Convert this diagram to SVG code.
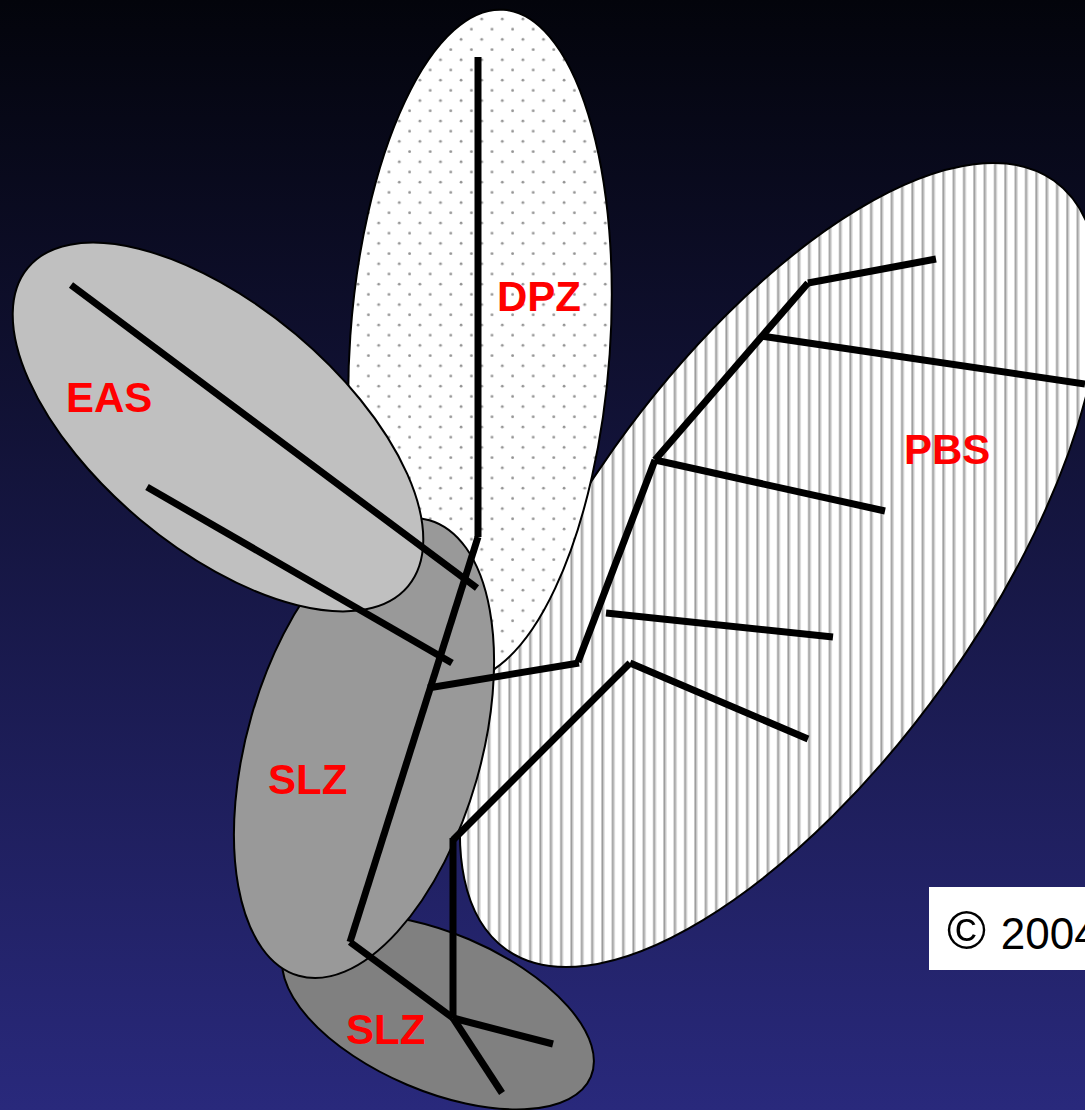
<svg xmlns="http://www.w3.org/2000/svg" width="1085" height="1110" viewBox="0 0 1085 1110">
  <defs>
    <linearGradient id="bg" x1="0" y1="0" x2="0" y2="1">
      <stop offset="0" stop-color="#03040b"/>
      <stop offset="1" stop-color="#29297c"/>
    </linearGradient>
    <pattern id="dots" patternUnits="userSpaceOnUse" patternTransform="rotate(-4 480 345)" x="476.7" y="14" width="20.6" height="20.4">
      <rect width="20.6" height="20.4" fill="#ffffff"/>
      <circle cx="5" cy="5" r="1.4" fill="#949494"/>
      <circle cx="15.3" cy="15.2" r="1.4" fill="#949494"/>
    </pattern>
    <pattern id="stripes" patternUnits="userSpaceOnUse" patternTransform="rotate(54.5 780 565)" x="704.4" y="0" width="10.33" height="20">
      <rect width="10.33" height="20" fill="#ffffff"/>
      <rect x="0" width="0.9" height="20" fill="#c4c4c4"/>
      <rect x="0.9" width="1.5" height="20" fill="#9c9c9c"/>
      <rect x="2.4" width="0.9" height="20" fill="#c4c4c4"/>
    </pattern>
  </defs>
  <style>
    .zone { stroke: #000000; stroke-width: 2; }
    .lbl { font-family: "Liberation Sans", Arial, sans-serif; font-weight: bold; font-size: 42px; fill: #ff0000; }
    .conn line { stroke: #000000; stroke-width: 7; stroke-linecap: butt; }
  </style>

  <rect x="0" y="0" width="1085" height="1110" fill="url(#bg)"/>

  <g id="PBS">
    <ellipse class="zone" cx="780" cy="565" rx="472" ry="203" transform="rotate(-54.5 780 565)" fill="url(#stripes)"/>
    <text class="lbl" x="904" y="464">PBS</text>
  </g>

  <g id="DPZ">
    <ellipse class="zone" cx="480" cy="345" rx="130" ry="336" transform="rotate(4 480 345)" fill="url(#dots)"/>
    <text class="lbl" x="497" y="311">DPZ</text>
  </g>

  <g id="SLZ-lower">
    <ellipse class="zone" cx="438" cy="1012" rx="166" ry="79" transform="rotate(23 438 1012)" fill="#808080"/>
    <text class="lbl" x="346" y="1044">SLZ</text>
  </g>

  <g id="SLZ-upper">
    <ellipse class="zone" cx="364" cy="748" rx="117" ry="237" transform="rotate(16 364 748)" fill="#999999"/>
    <text class="lbl" x="268" y="794">SLZ</text>
  </g>

  <g id="EAS">
    <ellipse class="zone" cx="218" cy="427" rx="248" ry="121" transform="rotate(40 218 427)" fill="#c0c0c0"/>
    <text class="lbl" x="66" y="412">EAS</text>
  </g>

  <g id="connectors" class="conn">
    <line x1="478" y1="57" x2="478" y2="537"/>
    <line x1="478" y1="537" x2="350" y2="942"/>
    <line x1="71" y1="285" x2="477" y2="588"/>
    <line x1="147" y1="487" x2="452" y2="663"/>
    <line x1="428" y1="688" x2="579" y2="663"/>
    <line x1="578" y1="662" x2="655" y2="460"/>
    <line x1="655" y1="460" x2="808" y2="283"/>
    <line x1="808" y1="283" x2="936" y2="259"/>
    <line x1="761" y1="336" x2="1085" y2="384"/>
    <line x1="655" y1="460" x2="885" y2="511"/>
    <line x1="606" y1="613" x2="833" y2="637"/>
    <line x1="453" y1="840" x2="630" y2="663"/>
    <line x1="630" y1="663" x2="808" y2="739"/>
    <line x1="453" y1="838" x2="453" y2="1018"/>
    <line x1="350" y1="942" x2="453" y2="1018"/>
    <line x1="453" y1="1018" x2="553" y2="1044"/>
    <line x1="453" y1="1018" x2="502" y2="1093"/>
  </g>

  <g id="copyright">
    <rect x="929" y="887" width="160" height="83" fill="#ffffff"/>
    <text x="947" y="949" font-family="Liberation Sans, Arial, sans-serif" fill="#000000"><tspan font-size="53">© </tspan><tspan font-size="44">2004</tspan></text>
  </g>
</svg>
